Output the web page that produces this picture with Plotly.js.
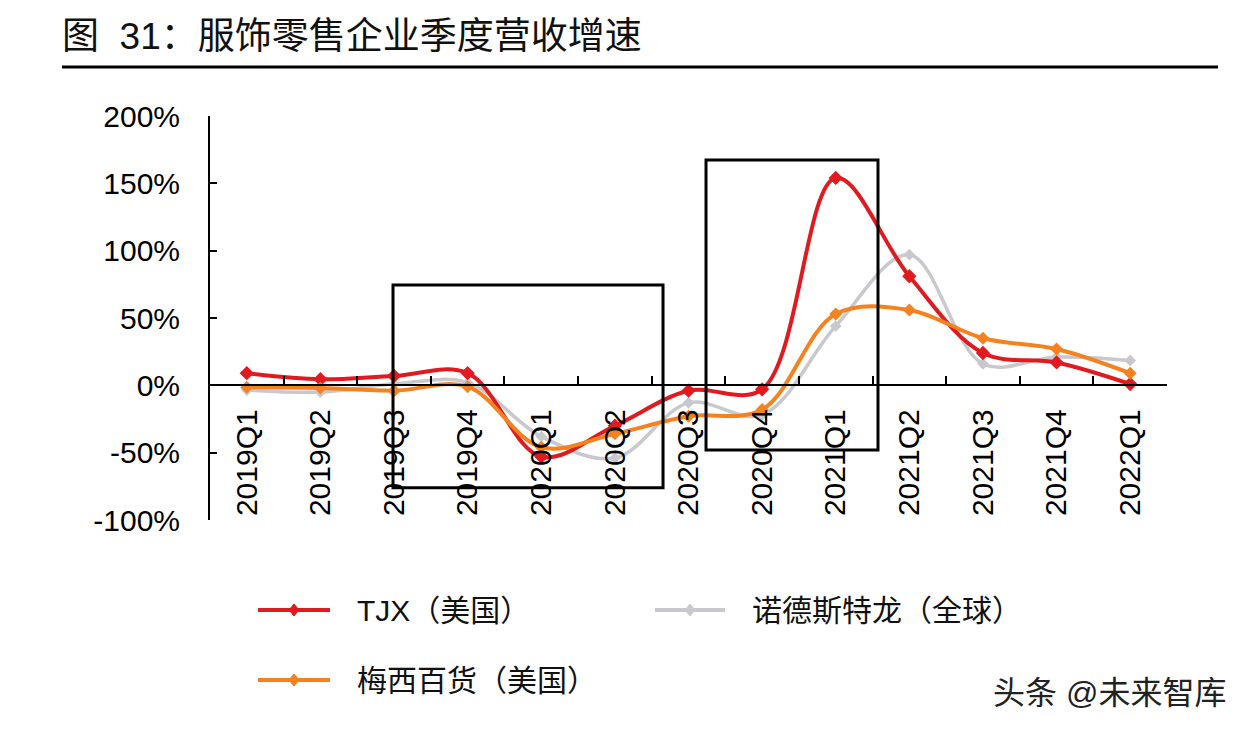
<!DOCTYPE html>
<html>
<head>
<meta charset="utf-8">
<script src="https://cdn.plot.ly/plotly-3.0.1.min.js"></script>
<style>html,body{margin:0;padding:0;background:#fff;}#chart{width:1248px;height:732px;}</style>
</head>
<body>
<div id="chart"></div>
<script>
const quarters = ['2019Q1','2019Q2','2019Q3','2019Q4','2020Q1','2020Q2','2020Q3','2020Q4','2021Q1','2021Q2','2021Q3','2021Q4','2022Q1'];
const tjx       = [9, 4.5, 7, 9, -53, -30, -4, -3, 154, 81, 24, 17, 1];
const nordstrom = [-3.5, -5, 1, 2, -38, -54, -13, -22, 44, 97, 16, 21, 18.5];
const macys     = [-1.5, -2, -4, -1, -46, -36, -23, -18, 53, 56, 35, 27, 9];
const yTickVals = [-100, -50, 0, 50, 100, 150, 200];
const yTickText = ['-100%', '-50%', '0%', '50%', '100%', '150%', '200%'];
const seriesNames = ['TJX（美国）', '诺德斯特龙（全球）', '梅西百货（美国）'];
const seriesColors = ['#E01A1F', '#C9C9CD', '#F5821F'];
const titleText = '图  31：服饰零售企业季度营收增速';
const watermark = '头条 @未来智库';

const FONT = 'Liberation Sans, Arial, Noto Sans CJK SC, sans-serif';

function trace(y, name, color, width, msize){
  return {
    x: quarters, y: y, name: name, type: 'scatter', mode: 'lines+markers',
    line: {color: color, width: width, shape: 'spline', smoothing: 1},
    marker: {symbol: 'diamond', size: msize, color: color},
    showlegend: false, hoverinfo: 'x+y+name'
  };
}
const data = [
  trace(nordstrom, seriesNames[1], seriesColors[1], 3.5, 9),
  trace(tjx, seriesNames[0], seriesColors[0], 4, 11),
  trace(macys, seriesNames[2], seriesColors[2], 4, 10)
];

// plot area: x 210..1167, y 116..520
const L = 210, R = 1167, T = 116, B = 520;
const px = v => (v - L) / (R - L);
const py = v => (B - v) / (B - T);

const shapes = [
  // title rule
  {type:'line', xref:'paper', yref:'paper', x0:px(62), x1:px(1218), y0:py(67), y1:py(67), line:{color:'#000', width:3}},
  // highlight boxes
  {type:'rect', xref:'x', yref:'y', x0:1.986, x1:5.654, y0:-76, y1:74.5, line:{color:'#000', width:3}, fillcolor:'rgba(0,0,0,0)'},
  {type:'rect', xref:'x', yref:'y', x0:6.238, x1:8.574, y0:-48, y1:167.3, line:{color:'#000', width:3}, fillcolor:'rgba(0,0,0,0)'}
];
const annotations = [
  {text: watermark, xref:'paper', yref:'paper', x:px(1228), y:py(693), xanchor:'right', yanchor:'middle', showarrow:false, font:{family:FONT, size:32, color:'#222'}}
];
// custom legend
const legendPos = [
  {x0:258, x1:330, tx:355, y:610},
  {x0:655, x1:725, tx:750, y:610},
  {x0:258, x1:330, tx:355, y:680}
];
legendPos.forEach((p, i) => {
  shapes.push({type:'line', xref:'paper', yref:'paper', x0:px(p.x0), x1:px(p.x1), y0:py(p.y), y1:py(p.y), line:{color:seriesColors[i], width:4}});
  shapes.push({type:'path', xref:'paper', yref:'paper', xsizemode:'pixel', ysizemode:'pixel', xanchor:px((p.x0+p.x1)/2), yanchor:py(p.y),
    path:'M -5 0 L 0 6 L 5 0 L 0 -6 Z', fillcolor:seriesColors[i], line:{color:seriesColors[i], width:1}});
  annotations.push({text: seriesNames[i], xref:'paper', yref:'paper', x:px(p.tx), y:py(p.y), xanchor:'left', yanchor:'middle', showarrow:false, font:{family:FONT, size:30, color:'#111'}});
});

const layout = {
  width: 1248, height: 732,
  margin: {l: L, r: 1248 - R, t: T, b: 732 - B, pad: 0},
  paper_bgcolor: '#fff', plot_bgcolor: '#fff',
  font: {family: FONT, size: 30, color: '#000'},
  title: {text: titleText, xref:'container', yref:'container', x: 62/1248, xanchor:'left', y: 1 - 36/732, yanchor:'middle', font:{family:FONT, size:37, color:'#111'}},
  showlegend: false,
  xaxis: {
    type:'category', range:[-0.5, 12.5], anchor:'free', position: 1/3,
    showline:true, linecolor:'#000', linewidth:2, showgrid:false, zeroline:false,
    ticks:'inside', ticklen:8, tickwidth:2, tickcolor:'#000', tickson:'boundaries',
    tickangle:-90, ticklabelstandoff: 11,
    tickfont:{family:FONT, size:30, color:'#000'}, fixedrange:true
  },
  yaxis: {
    range:[-100, 200], tickmode:'array', tickvals: yTickVals, ticktext: yTickText,
    showline:true, linecolor:'#000', linewidth:2, showgrid:false, zeroline:false,
    ticks:'inside', ticklen:7, tickwidth:2, tickcolor:'#000', ticklabelstandoff: 22,
    tickfont:{family:FONT, size:30, color:'#000'}, fixedrange:true
  },
  shapes: shapes, annotations: annotations
};
Plotly.newPlot('chart', data, layout, {displayModeBar:false, staticPlot:true});
</script>
</body>
</html>
